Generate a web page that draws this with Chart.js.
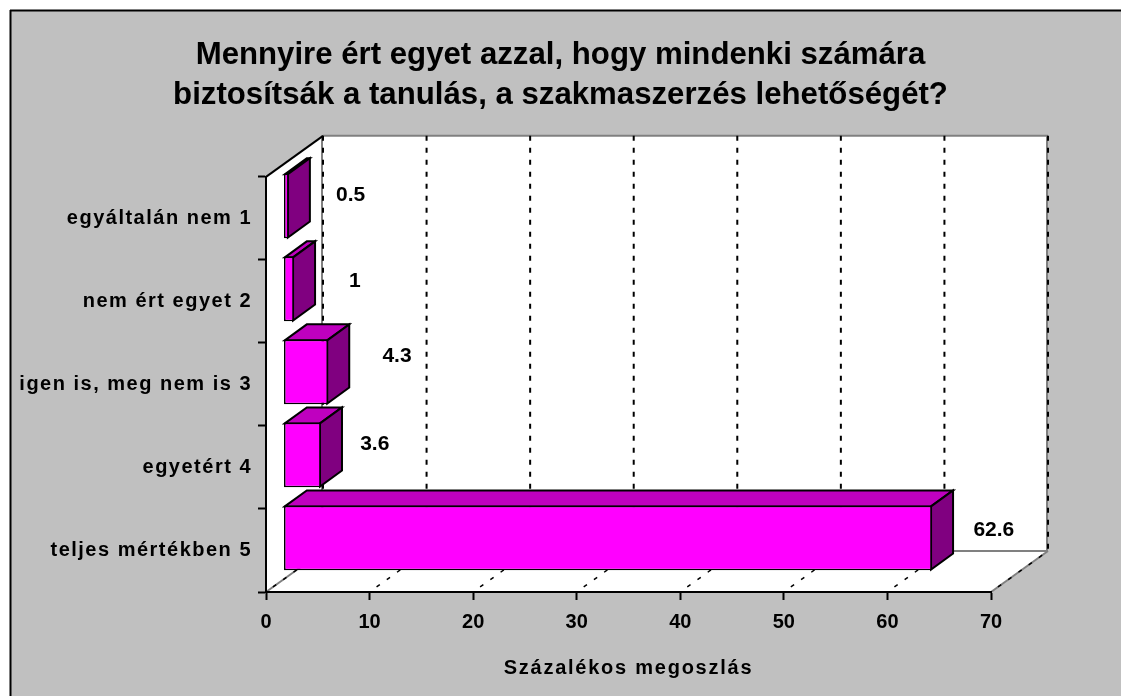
<!DOCTYPE html>
<html><head><meta charset="utf-8">
<style>html,body{margin:0;padding:0;background:#fff}canvas{display:block}</style>
<script src="https://cdn.jsdelivr.net/npm/chart.js@4"></script>
</head><body>
<canvas id="c" width="1121" height="696"></canvas>
<script>
const categories = ["egyáltalán nem 1","nem ért egyet 2","igen is, meg nem is 3","egyetért 4","teljes mértékben 5"];
const values = [0.5,1,4.3,3.6,62.6];
const valueLabels = ["0.5","1","4.3","3.6","62.6"];
const titleLines = ["Mennyire ért egyet azzal, hogy mindenki számára","biztosítsák a tanulás, a szakmaszerzés lehetőségét?"];
const axisTitle = "Százalékos megoszlás";
const FONT = '"Liberation Sans"';
const labelDx = [62,61,69,54,62], labelDy = [-23,-20,-28,-23,-20];
const wallDepth = {x:57,y:-41}, barShift = {x:17.5,y:-12.5}, barDepth = {x:22,y:-16};
const poly = (ctx,pts,fill,stroke,lw)=>{ctx.beginPath();pts.forEach((p,i)=>i?ctx.lineTo(p[0],p[1]):ctx.moveTo(p[0],p[1]));ctx.closePath();
  if(fill){ctx.fillStyle=fill;ctx.fill();} if(stroke){ctx.strokeStyle=stroke;ctx.lineWidth=lw;ctx.lineJoin='miter';ctx.stroke();}};
const line = (ctx,a,b,col,lw,dash,off)=>{ctx.save();ctx.beginPath();ctx.moveTo(a[0],a[1]);ctx.lineTo(b[0],b[1]);ctx.strokeStyle=col;ctx.lineWidth=lw;ctx.setLineDash(dash||[]);ctx.lineDashOffset=off||0;ctx.stroke();ctx.restore();};
const spaced = (scale,method,ls)=>{
  const orig=scale[method];
  if(orig.__spaced) return;
  const f=function(...args){const c=this.ctx,p=c.letterSpacing;c.letterSpacing=ls;orig.apply(this,args);c.letterSpacing=p;};
  f.__spaced=true;
  scale[method]=f;
};
const bar3d = {
  id:'bar3d',
  afterLayout(chart){
    const t=chart.titleBlock;
    t.left=0;t.right=chart.width;t.width=chart.width;
  },
  beforeDraw(chart){
    const {ctx,chartArea:a,scales:{x,y}}=chart, W=chart.width, H=chart.height, d=wallDepth;
    spaced(y,'drawLabels','1.5px');
    spaced(x,'drawTitle','1.75px');
    ctx.save();
    ctx.fillStyle='#fff';ctx.fillRect(0,0,W,H);
    ctx.fillStyle='#C0C0C0';ctx.fillRect(10,10,W,H);
    line(ctx,[10.5,10],[10.5,H],'#000',2);
    line(ctx,[10,10.5],[W,10.5],'#000',2);
    const L=a.left,R=a.right,T=a.top,B=a.bottom;
    poly(ctx,[[L+d.x,T+d.y],[R+d.x,T+d.y],[R+d.x,B+d.y],[L+d.x,B+d.y]],'#fff');
    poly(ctx,[[L,T],[L+d.x,T+d.y],[L+d.x,B+d.y],[L,B]],'#fff');
    poly(ctx,[[L,B],[L+d.x,B+d.y],[R+d.x,B+d.y],[R,B]],'#fff');
    line(ctx,[L+d.x,T+d.y],[R+d.x,T+d.y],'#808080',2);
    line(ctx,[R+d.x-1,T+d.y],[R+d.x-1,B+d.y],'#808080',2);
    line(ctx,[L+d.x-1,T+d.y],[L+d.x-1,B+d.y],'#808080',2);
    line(ctx,[L+d.x,B+d.y],[R+d.x,B+d.y],'#808080',2);
    line(ctx,[L,B],[L+d.x,B+d.y],'#808080',2);
    line(ctx,[R,B],[R+d.x,B+d.y],'#808080',2);
    line(ctx,[L,T],[L+d.x,T+d.y],'#000',2);
    x.ticks.forEach(t=>{
      const px=x.getPixelForValue(t.value);
      line(ctx,[px+d.x,T+d.y],[px+d.x,B+d.y],'#000',2,[5,7]);
      line(ctx,[px,B],[px+d.x,B+d.y],'#000',1.5,[4,8.6],4);
    });
    ctx.restore();
  },
  beforeDatasetsDraw(chart){
    const {ctx}=chart, meta=chart.getDatasetMeta(0), s=barShift, d=barDepth;
    ctx.save();
    ctx.translate(s.x,s.y);
    meta.data.forEach(el=>{
      const x0=el.base+.8,x1=el.x-.8,top=el.y-el.height/2+.8,bot=el.y+el.height/2-.8;
      poly(ctx,[[x0,top],[x0+d.x,top+d.y],[x1+d.x,top+d.y],[x1,top]],'#BF00BF','#000',2);
      poly(ctx,[[x1,top],[x1+d.x,top+d.y],[x1+d.x,bot+d.y],[x1,bot]],'#800080','#000',2);
    });
  },
  afterDatasetsDraw(chart){
    const {ctx}=chart, meta=chart.getDatasetMeta(0);
    ctx.restore();
    ctx.save();
    ctx.fillStyle='#000';ctx.font='bold 21px '+FONT;ctx.textAlign='center';ctx.textBaseline='middle';
    const y=chart.scales.y;
    meta.data.forEach((el,i)=>{
      ctx.fillText(valueLabels[i],el.x+17.5+labelDx[i],y.getPixelForValue(i)+labelDy[i]);
    });
    ctx.restore();
  }
};
const chart = new Chart(document.getElementById('c'),{
  type:'bar',
  data:{labels:categories,datasets:[{data:values,backgroundColor:'#FF00FF',borderColor:'#000',borderWidth:1.6,borderSkipped:false,categoryPercentage:1,barPercentage:0.78}]},
  plugins:[bar3d],
  options:{
    indexAxis:'y',responsive:false,animation:false,
    layout:{padding:{left:0,right:130,top:0,bottom:0}},
    plugins:{
      legend:{display:false},tooltip:{enabled:false},
      title:{display:true,text:titleLines,color:'#000',font:{family:FONT,size:31.2,weight:'bold',lineHeight:1.28},padding:{top:35,bottom:62}}
    },
    scales:{
      x:{min:0,max:70,ticks:{stepSize:10,color:'#000',font:{family:FONT,size:20,weight:'bold'},padding:10,maxRotation:0},
        grid:{drawOnChartArea:false,drawTicks:true,tickLength:8,tickColor:'#000',tickWidth:2},
        border:{color:'#000',width:2},
        title:{display:true,text:axisTitle,color:'#000',font:{family:FONT,size:20,weight:'bold'},padding:{top:10,bottom:16}},
        afterFit(s){s.height=104;}
      },
      y:{ticks:{color:'#000',font:{family:FONT,size:20,weight:'bold'},padding:6},
        grid:{drawOnChartArea:false,drawTicks:true,tickLength:8,tickColor:'#000',tickWidth:2},
        border:{color:'#000',width:2},
        afterFit(s){s.width=266;}
      }
    }
  }
});
</script></body></html>
